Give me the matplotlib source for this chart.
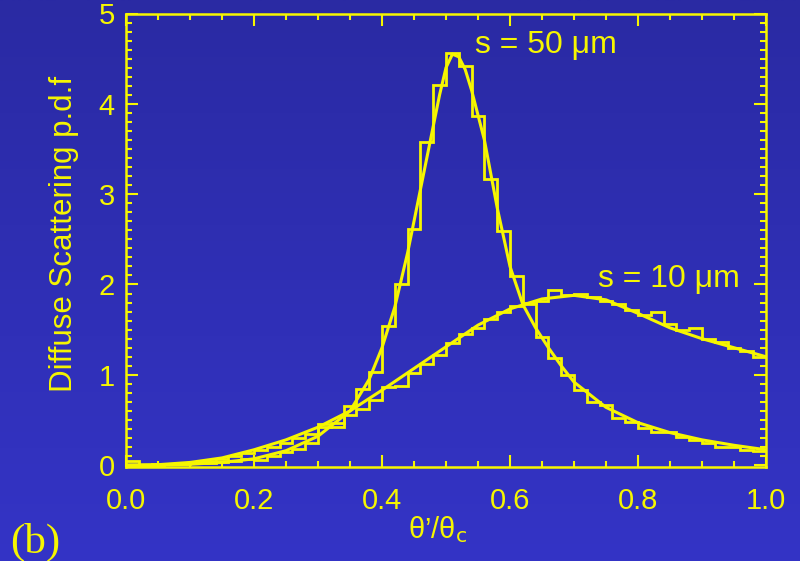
import numpy as np
import matplotlib
matplotlib.use('Agg')
import matplotlib.pyplot as plt
from matplotlib.ticker import MultipleLocator
from matplotlib.colors import LinearSegmentedColormap

# ---------------- data ----------------
bin_edges = np.round(np.arange(0, 1.0001, 0.02), 2)

hist_s50 = [0.05, 0.00, 0.00, 0.01, 0.01, 0.02, 0.02, 0.04, 0.05, 0.07,
            0.06, 0.10, 0.14, 0.18, 0.25, 0.46, 0.42, 0.65, 0.84, 1.03,
            1.54, 2.00, 2.61, 3.58, 4.21, 4.56, 4.42, 3.86, 3.17, 2.59,
            2.09, 1.78, 1.42, 1.19, 1.00, 0.83, 0.70, 0.67, 0.52, 0.48,
            0.41, 0.37, 0.37, 0.31, 0.28, 0.24, 0.20, 0.20, 0.17, 0.16]

hist_s10 = [0.00, 0.00, 0.01, 0.01, 0.02, 0.03, 0.05, 0.07, 0.10, 0.13,
            0.17, 0.20, 0.25, 0.30, 0.34, 0.42, 0.47, 0.55, 0.62, 0.72,
            0.86, 0.88, 1.02, 1.12, 1.22, 1.35, 1.45, 1.52, 1.62, 1.70,
            1.76, 1.80, 1.82, 1.94, 1.88, 1.90, 1.86, 1.82, 1.78, 1.72,
            1.66, 1.70, 1.56, 1.50, 1.52, 1.40, 1.36, 1.30, 1.26, 1.20]

curve_s50_x = [0.00, 0.05, 0.10, 0.15, 0.20, 0.25, 0.30, 0.35, 0.38, 0.40,
               0.42, 0.44, 0.46, 0.48, 0.49, 0.50, 0.51, 0.52, 0.53, 0.54,
               0.56, 0.58, 0.60, 0.62, 0.64, 0.66, 0.68, 0.70, 0.75, 0.80,
               0.85, 0.90, 0.95, 1.00]
curve_s50_y = [0.00, 0.00, 0.01, 0.03, 0.07, 0.16, 0.32, 0.60, 0.95, 1.30,
               1.75, 2.35, 3.05, 3.75, 4.10, 4.40, 4.55, 4.52, 4.38, 4.15,
               3.60, 2.85, 2.20, 1.78, 1.52, 1.30, 1.10, 0.92, 0.64, 0.47,
               0.36, 0.28, 0.22, 0.17]

curve_s10_x = [0.00, 0.05, 0.10, 0.15, 0.20, 0.25, 0.30, 0.35, 0.40, 0.45,
               0.50, 0.55, 0.60, 0.65, 0.70, 0.75, 0.80, 0.85, 0.90, 0.95,
               1.00]
curve_s10_y = [0.00, 0.005, 0.03, 0.08, 0.17, 0.28, 0.42, 0.60, 0.83, 1.07,
               1.31, 1.55, 1.73, 1.84, 1.88, 1.83, 1.68, 1.52, 1.40, 1.30,
               1.20]

x_ticks = [0.0, 0.2, 0.4, 0.6, 0.8, 1.0]
x_ticklabels = ['0.0', '0.2', '0.4', '0.6', '0.8', '1.0']
y_ticks = [0, 1, 2, 3, 4, 5]
y_ticklabels = ['0', '1', '2', '3', '4', '5']

# ---------------- style ----------------
YEL = '#F6F600'
NARROW = ['Liberation Sans Narrow', 'Liberation Sans', 'DejaVu Sans']
plt.rcParams['mathtext.fontset'] = 'custom'
plt.rcParams['mathtext.rm'] = 'Liberation Sans Narrow'
plt.rcParams['mathtext.it'] = 'Liberation Sans Narrow'

fig = plt.figure(figsize=(8, 5.61), dpi=100)

# gradient background
bg = fig.add_axes([0, 0, 1, 1])
bg.axis('off')
grad = np.linspace(0, 1, 256).reshape(-1, 1)
cmap = LinearSegmentedColormap.from_list('bgc', ['#2A2AA3', '#3434C6'])
bg.imshow(grad, aspect='auto', cmap=cmap, extent=[0, 1, 0, 1], origin='upper')

ax = fig.add_axes([126 / 800, 1 - 466.5 / 561, 640 / 800, 453 / 561])
ax.patch.set_alpha(0)

ax.stairs(hist_s50, bin_edges, baseline=None, color=YEL, lw=2.0)
ax.stairs(hist_s10, bin_edges, baseline=None, color=YEL, lw=2.0)
ax.plot(curve_s50_x, curve_s50_y, color=YEL, lw=2.2)
ax.plot(curve_s10_x, curve_s10_y, color=YEL, lw=2.2)

ax.set_xlim(0, 1)
ax.set_ylim(-0.015, 5.0)

ax.set_xticks(x_ticks)
ax.set_xticklabels(x_ticklabels)
ax.set_yticks(y_ticks)
ax.set_yticklabels(y_ticklabels)
ax.xaxis.set_minor_locator(MultipleLocator(0.05))
ax.yaxis.set_minor_locator(MultipleLocator(0.1))

ax.tick_params(which='both', direction='in', top=True, right=True,
               color=YEL, labelcolor=YEL, width=1.5)
ax.tick_params(which='major', length=8.5)
ax.tick_params(which='minor', length=4.3)
ax.tick_params(axis='x', which='major', pad=15)
ax.tick_params(axis='y', which='major', pad=8)
for lab in ax.get_xticklabels() + ax.get_yticklabels():
    lab.set_fontfamily(NARROW)
    lab.set_fontsize(21)
for sp in ax.spines.values():
    sp.set_color(YEL)
    sp.set_linewidth(1.8)

# labels and annotations
fig.text(64 / 800, 1 - 234 / 561, 'Diffuse Scattering p.d.f', rotation=90,
         ha='center', va='center', color=YEL, fontsize=22.5,
         family=['Liberation Sans', 'DejaVu Sans'])
fig.text(408 / 800, 1 - 538 / 561, 'θ’/θ$_\\mathrm{c}$', ha='left',
         va='baseline', color=YEL, fontsize=21, family=NARROW)
fig.text(475 / 800, 1 - 53 / 561, 's = 50 μm', ha='left', va='baseline',
         color=YEL, fontsize=23, family=['Liberation Sans', 'DejaVu Sans'])
fig.text(598 / 800, 1 - 287 / 561, 's = 10 μm', ha='left', va='baseline',
         color=YEL, fontsize=23, family=['Liberation Sans', 'DejaVu Sans'])
fig.text(10 / 800, 1 - 553 / 561, '(b)', ha='left', va='baseline',
         color=YEL, fontsize=31, family=['Liberation Serif', 'DejaVu Serif'])

fig.savefig('out.png', dpi=100)
